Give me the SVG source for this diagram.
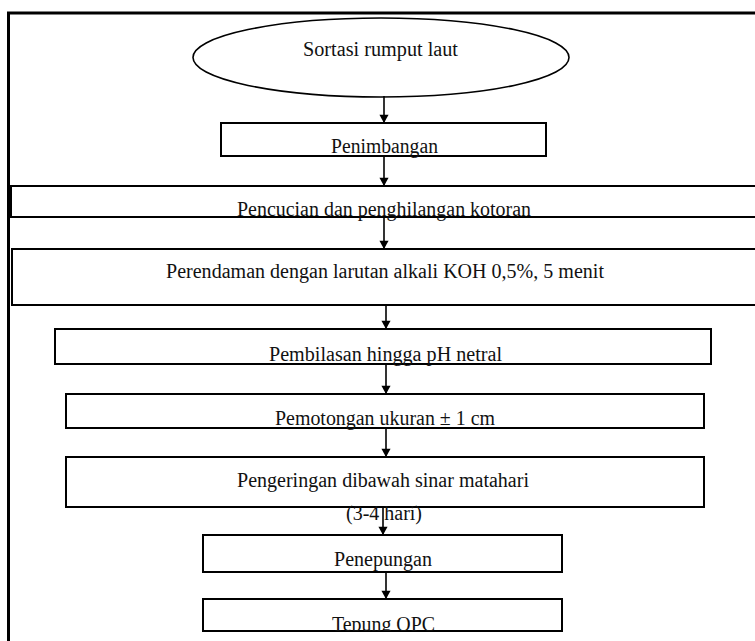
<svg xmlns="http://www.w3.org/2000/svg" width="755" height="641" viewBox="0 0 755 641">
  <defs>
    <style>
      .frame { fill: none; stroke: #000; stroke-width: 3; }
      .node { fill: #fff; stroke: #000; stroke-width: 2; }
      .oval { fill: #fff; stroke: #000; stroke-width: 1.6; }
      .label { font-family: 'Liberation Serif', 'DejaVu Serif', 'Times New Roman', serif; font-size: 20px; fill: #111; }
      .wire { stroke: #000; stroke-width: 1.6; fill: none; }
    </style>
    <marker id="head" viewBox="0 0 10 12" refX="10" refY="6" markerWidth="12" markerHeight="10" markerUnits="userSpaceOnUse" orient="auto">
      <path d="M0,0.5 L10,6 L0,11.5 Z" fill="#000"/>
    </marker>
    <clipPath id="clip-tepung">
      <rect x="203" y="599" width="359" height="32"/>
    </clipPath>
  </defs>
  <rect width="755" height="641" fill="#fff"/>

  <!-- page frame -->
  <path class="frame" d="M8.5,641 V13 H755"/>

  <g id="sortasi">
    <ellipse class="oval" cx="381" cy="57.5" rx="188" ry="39.5"/>
    <text class="label" x="303" y="56" textLength="155" lengthAdjust="spacingAndGlyphs">Sortasi rumput laut</text>
  </g>

  <g id="penimbangan">
    <rect class="node" x="221" y="123" width="325" height="33"/>
    <text class="label" x="331" y="153" textLength="107" lengthAdjust="spacingAndGlyphs">Penimbangan</text>
  </g>

  <g id="pencucian">
    <rect class="node" x="11" y="186" width="760" height="31"/>
    <text class="label" x="237" y="216" textLength="294" lengthAdjust="spacingAndGlyphs">Pencucian dan penghilangan kotoran</text>
  </g>

  <g id="perendaman">
    <rect class="node" x="12" y="249" width="760" height="56"/>
    <text class="label" x="166" y="278" textLength="438" lengthAdjust="spacingAndGlyphs">Perendaman dengan larutan alkali KOH 0,5%, 5 menit</text>
  </g>

  <g id="pembilasan">
    <rect class="node" x="55" y="329" width="656" height="35"/>
    <text class="label" x="269" y="361" textLength="233" lengthAdjust="spacingAndGlyphs">Pembilasan hingga pH netral</text>
  </g>

  <g id="pemotongan">
    <rect class="node" x="66" y="394" width="638" height="34"/>
    <text class="label" x="275" y="425" textLength="220" lengthAdjust="spacingAndGlyphs">Pemotongan ukuran ± 1 cm</text>
  </g>

  <g id="pengeringan">
    <rect class="node" x="66" y="457" width="638" height="50"/>
    <text class="label" x="237" y="487" textLength="292" lengthAdjust="spacingAndGlyphs">Pengeringan dibawah sinar matahari</text>
  </g>

  <g id="penepungan">
    <rect class="node" x="203" y="535" width="359" height="37"/>
    <text class="label" x="334" y="566" textLength="98" lengthAdjust="spacingAndGlyphs">Penepungan</text>
  </g>

  <g id="tepung-opc">
    <rect class="node" x="203" y="599" width="359" height="32"/>
    <text class="label" x="332" y="631" textLength="103" lengthAdjust="spacingAndGlyphs" clip-path="url(#clip-tepung)">Tepung OPC</text>
  </g>

  <!-- duration note on the drying step -->
  <text class="label" x="346" y="520" textLength="76" lengthAdjust="spacingAndGlyphs">(3-4 hari)</text>

  <g id="connectors">
    <line class="wire" x1="384" y1="96" x2="384" y2="123" marker-end="url(#head)"/>
    <line class="wire" x1="384" y1="156" x2="384" y2="186" marker-end="url(#head)"/>
    <line class="wire" x1="384" y1="217" x2="384" y2="249" marker-end="url(#head)"/>
    <line class="wire" x1="386" y1="305" x2="386" y2="329" marker-end="url(#head)"/>
    <line class="wire" x1="386" y1="364" x2="386" y2="394" marker-end="url(#head)"/>
    <line class="wire" x1="386" y1="428" x2="386" y2="457" marker-end="url(#head)"/>
    <line class="wire" x1="383" y1="507" x2="383" y2="535" marker-end="url(#head)"/>
    <line class="wire" x1="386" y1="572" x2="386" y2="599" marker-end="url(#head)"/>
  </g>
</svg>
